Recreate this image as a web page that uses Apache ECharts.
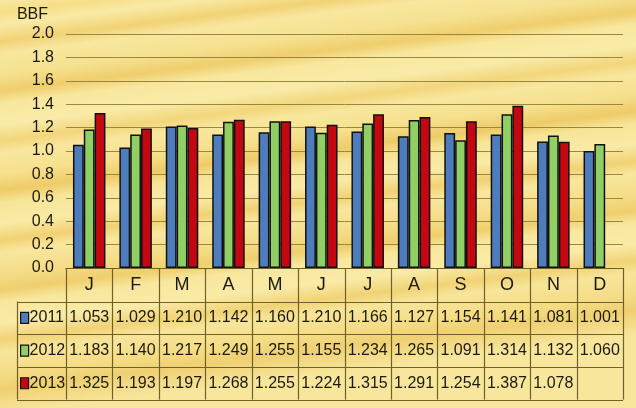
<!DOCTYPE html>
<html>
<head>
<meta charset="utf-8">
<script src="https://cdn.jsdelivr.net/npm/echarts@6/dist/echarts.min.js"></script>
<style>
  html, body { margin: 0; padding: 0; }
  #chart { width: 636px; height: 408px; }
</style>
</head>
<body>
<div id="chart"></div>
<script>
const months = ['J', 'F', 'M', 'A', 'M', 'J', 'J', 'A', 'S', 'O', 'N', 'D'];
const seriesNames = ['2011', '2012', '2013'];
const values2011 = [1.053, 1.029, 1.210, 1.142, 1.160, 1.210, 1.166, 1.127, 1.154, 1.141, 1.081, 1.001];
const values2012 = [1.183, 1.140, 1.217, 1.249, 1.255, 1.155, 1.234, 1.265, 1.091, 1.314, 1.132, 1.060];
const values2013 = [1.325, 1.193, 1.197, 1.268, 1.255, 1.224, 1.315, 1.291, 1.254, 1.387, 1.078, null];
const colors = ['#4f7cbd', '#8fcf63', '#c40812'];
const yTicks = { min: 0, max: 2.0, interval: 0.2 };

const FONT = "'Liberation Sans', Arial, sans-serif";
const TEXT = '#1c1a10';
const LINE = '#6f6128';

// layout
const W = 636, H = 408;
const gridL = 66, gridR = 13, gridT = 34, gridB = 140;
const axisY = H - gridB;              // 268
const rowH = 32.7;
const tableLeft = 17;
const rowCenters = [axisY + 17, axisY + 33.5 + rowH * 0.5, axisY + 33.5 + rowH * 1.5, axisY + 33.5 + rowH * 2.5];

const allValues = [values2011, values2012, values2013];
const fmt = v => (v == null ? '' : v.toFixed(3));

const chart = echarts.init(document.getElementById('chart'));

// wood grain background
const woodStops = [
  [0.00, '#f8e9a2'], [0.03, '#f5de86'], [0.06, '#f9eaa6'], [0.10, '#f1d376'],
  [0.13, '#f8e79e'], [0.18, '#f6e190'], [0.22, '#efce6c'], [0.25, '#f8e79e'],
  [0.30, '#f9eba8'], [0.34, '#f2d67c'], [0.37, '#f8e79e'], [0.42, '#f6e08c'],
  [0.46, '#eecb68'], [0.49, '#f7e598'], [0.54, '#f9eaa6'], [0.58, '#f1d274'],
  [0.61, '#f8e79e'], [0.66, '#f5dd88'], [0.70, '#efcf6e'], [0.73, '#f8e79e'],
  [0.78, '#f9eaa6'], [0.82, '#f1d376'], [0.85, '#f7e59a'], [0.90, '#f5dd86'],
  [0.94, '#efd072'], [1.00, '#f7e69c']
].map(s => ({ offset: s[0], color: s[1] }));

const xAxes = [{
  type: 'category',
  data: months,
  gridIndex: 0,
  position: 'bottom',
  axisLine: { show: true, lineStyle: { color: LINE, width: 1.2 } },
  axisTick: { show: false },
  axisLabel: { color: TEXT, fontFamily: FONT, fontSize: 18, lineHeight: 20, margin: 7 }
}];
allValues.forEach((vals, i) => {
  xAxes.push({
    type: 'category',
    data: vals.map(fmt),
    gridIndex: 0,
    position: 'bottom',
    offset: rowCenters[i + 1] - axisY - 10,
    axisLine: { show: false },
    axisTick: { show: false },
    axisLabel: { color: TEXT, fontFamily: FONT, fontSize: 16, lineHeight: 20, margin: 0, interval: 0 }
  });
});

// table borders (layout only)
const plotW = W - gridL - gridR;
const colW = plotW / months.length;
const tableRight = gridL + plotW;
const tableBottom = axisY + 33.5 + rowH * 3;
const borderStyle = { stroke: LINE, lineWidth: 1.2 };
const graphics = [];
for (let k = 0; k <= months.length; k++) {
  const x = Math.round(gridL + k * colW) + 0.5;
  graphics.push({ type: 'line', shape: { x1: x, y1: axisY, x2: x, y2: tableBottom }, style: borderStyle, silent: true });
}
[0, 1, 2, 3].forEach(r => {
  const y = Math.round(axisY + 33.5 + rowH * r) + 0.5;
  graphics.push({ type: 'line', shape: { x1: tableLeft, y1: y, x2: tableRight, y2: y }, style: borderStyle, silent: true });
});
graphics.push({ type: 'line', shape: { x1: tableLeft + 0.5, y1: axisY + 33.5, x2: tableLeft + 0.5, y2: tableBottom }, style: borderStyle, silent: true });

chart.setOption({
  backgroundColor: { type: 'linear', x: 0, y: 0, x2: 0.08, y2: 1, colorStops: woodStops },
  color: colors,
  animation: false,
  grid: { left: gridL, right: gridR, top: gridT, bottom: gridB, containLabel: false },
  legend: {
    orient: 'vertical',
    left: tableLeft + 3,
    top: rowCenters[1] - 10,
    itemGap: rowH - 20,
    itemWidth: 8,
    itemHeight: 11,
    icon: 'rect',
    data: seriesNames,
    textStyle: { color: TEXT, fontFamily: FONT, fontSize: 16, lineHeight: 20, padding: [0, 0, 0, -4] },
    itemStyle: { borderColor: '#111', borderWidth: 1.2 },
    padding: 0,
    selectedMode: false
  },
  xAxis: xAxes,
  yAxis: {
    type: 'value',
    min: yTicks.min, max: yTicks.max, interval: yTicks.interval,
    name: 'BBF',
    nameLocation: 'end',
    nameGap: 11,
    nameTextStyle: { color: TEXT, fontFamily: FONT, fontSize: 16, align: 'right', padding: [0, 18, 0, 0] },
    axisLine: { show: false },
    axisTick: { show: false },
    axisLabel: { color: TEXT, fontFamily: FONT, fontSize: 16, margin: 12, formatter: v => v.toFixed(1) },
    splitLine: { show: true, lineStyle: { color: '#9a8740', width: 1 } }
  },
  series: seriesNames.map((name, i) => ({
    name,
    type: 'bar',
    xAxisIndex: 0,
    data: allValues[i],
    barGap: '0%',
    barCategoryGap: '30%',
    itemStyle: { color: colors[i], borderColor: '#111', borderWidth: 1.5 }
  })),
  graphic: graphics
});
</script>
</body>
</html>
